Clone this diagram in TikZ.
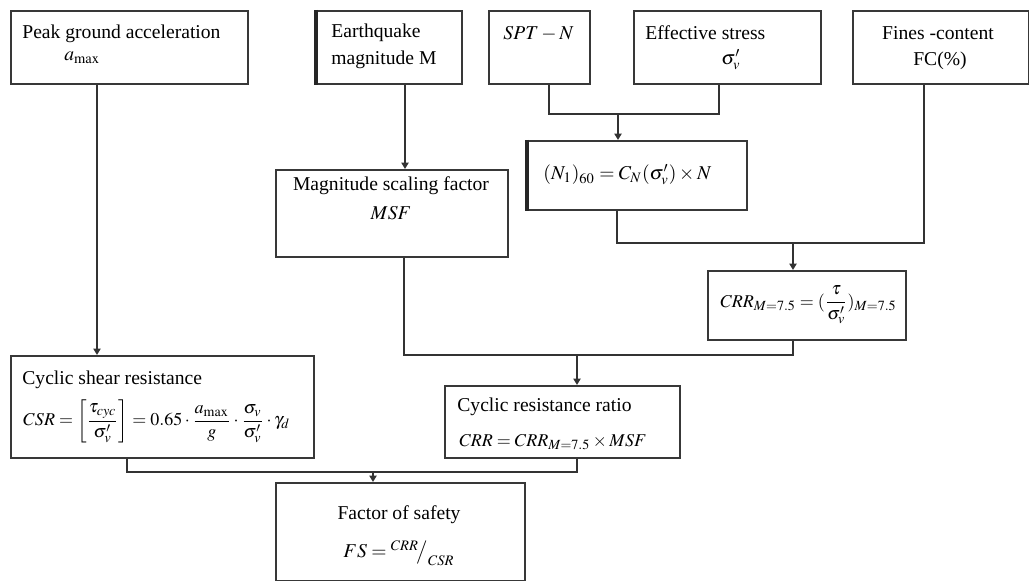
\documentclass[tikz,border=0pt]{standalone}
\usepackage{amsmath}
\usepackage{mathptmx}
\usepackage{fontspec}
\setmainfont{Liberation Serif}
\usetikzlibrary{arrows.meta}
\begin{document}
\begin{tikzpicture}[x=0.5pt,y=-0.5pt,
  box/.style={draw=black!78, line width=0.9pt, inner sep=0pt, anchor=north west},
  lbl/.style={inner sep=0pt, font=\fontsize{9.8pt}{12pt}\selectfont},
  fml/.style={inner sep=0pt, font=\fontsize{9pt}{11pt}\selectfont},
  ln/.style={draw=black!80, line width=0.9pt},
  arr/.style={ln, -{Triangle[length=3.2pt,width=3.6pt]}},
  thick edge/.style={draw=black!85, line width=1.8pt}]
\useasboundingbox (0,0) rectangle (1029,581);

% boxes
\node[box, minimum width=118.5pt, minimum height=36.5pt] (pga) at (10,10) {};
\node[box, minimum width=72.5pt, minimum height=36.5pt] (eq) at (316,10) {};
\node[box, minimum width=50.5pt, minimum height=36.5pt] (spt) at (488,10) {};
\node[box, minimum width=93.5pt, minimum height=36.5pt] (eff) at (633,10) {};
\node[box, minimum width=88pt, minimum height=36.5pt] (fc) at (852,10) {};
\node[box, minimum width=116pt, minimum height=43.5pt] (msf) at (275,169) {};
\node[box, minimum width=109.5pt, minimum height=34.5pt] (n1) at (527,140) {};
\node[box, minimum width=99pt, minimum height=34.5pt] (crrm) at (707,270) {};
\node[box, minimum width=151.5pt, minimum height=51pt] (csr) at (10,355) {};
\node[box, minimum width=117.5pt, minimum height=36pt] (crr) at (444,385) {};
\node[box, minimum width=124.5pt, minimum height=49pt] (fs) at (275,482) {};

\draw[thick edge] (eq.north west) -- (eq.south west);
\draw[thick edge] (n1.north west) -- (n1.south west);

% texts
\node[lbl, anchor=west] (pga1) at (22,34) {Peak ground acceleration};
\node[lbl, anchor=west] (pga2) at (64,58) {$a_{\max}$};
\node[lbl, anchor=west] (eq1) at (331,33) {Earthquake};
\node[lbl, anchor=west] (eq2) at (331,60) {magnitude M};
\node[lbl, anchor=west] (spt1) at (503,34) {$SPT-N$};
\node[lbl, anchor=west] (eff1) at (645,33) {Effective stress};
\node[lbl] (eff2) at (731,60) {$\sigma'_{v}$};
\node[lbl] (fc1) at (938,33) {Fines -content};
\node[lbl] (fc2) at (940,61) {FC(\%)};
\node[lbl] (msf1) at (391,186) {Magnitude scaling factor};
\node[lbl] (msf2) at (391,213) {$MSF$};
\node[lbl, anchor=west] (n11) at (543,175) {$(N_1)_{60}=C_N(\sigma'_{v})\times N$};
\node[fml, anchor=west] (crrm1) at (720,305) {$CRR_{M=7.5}=(\dfrac{\tau}{\sigma'_{v}})_{M=7.5}$};
\node[lbl, anchor=west] (csr1) at (22,380) {Cyclic shear resistance};
\node[fml, anchor=west] (csr2) at (23,421) {$CSR=\left[\dfrac{\tau_{cyc}}{\sigma'_{v}}\right]=0.65\cdot\dfrac{a_{\max}}{g}\cdot\dfrac{\sigma_{v}}{\sigma'_{v}}\cdot\gamma_{d}$};
\node[lbl, anchor=west] (crr1) at (457,407) {Cyclic resistance ratio};
\node[fml, anchor=west] (crr2) at (459,442) {$CRR=CRR_{M=7.5}\times MSF$};
\node[lbl] (fs1) at (399,515) {Factor of safety};
\node[lbl] (fs2) at (399,553) {$FS={}^{CRR}\!\big/_{CSR}$};

% connector coordinates
\coordinate (xa) at (97,0);
\coordinate (xb) at (405,0);
\coordinate (xspt) at (549,0);
\coordinate (xeff) at (719,0);
\coordinate (j1) at (618,114);
\coordinate (xn1) at (617,0);
\coordinate (xfc) at (924,0);
\coordinate (j2) at (793,243);
\coordinate (xmsf) at (404,0);
\coordinate (j3) at (577,355);
\coordinate (xcsr) at (127,0);
\coordinate (j4) at (373,472);

% connectors
\draw[arr] (pga.south -| xa) -- (csr.north -| xa);
\draw[arr] (eq.south -| xb) -- (msf.north -| xb);
\draw[ln] (spt.south -| xspt) |- (j1) -| (eff.south -| xeff);
\draw[arr] (j1) -- (n1.north -| j1);
\draw[ln] (n1.south -| xn1) |- (j2) -| (fc.south -| xfc);
\draw[arr] (j2) -- (crrm.north -| j2);
\draw[ln] (msf.south -| xmsf) |- (j3) -| (crrm.south -| j2);
\draw[arr] (j3) -- (crr.north -| j3);
\draw[ln] (csr.south -| xcsr) |- (j4) -| (crr.south -| j3);
\draw[arr] (j4) -- (fs.north -| j4);
\end{tikzpicture}
\end{document}
